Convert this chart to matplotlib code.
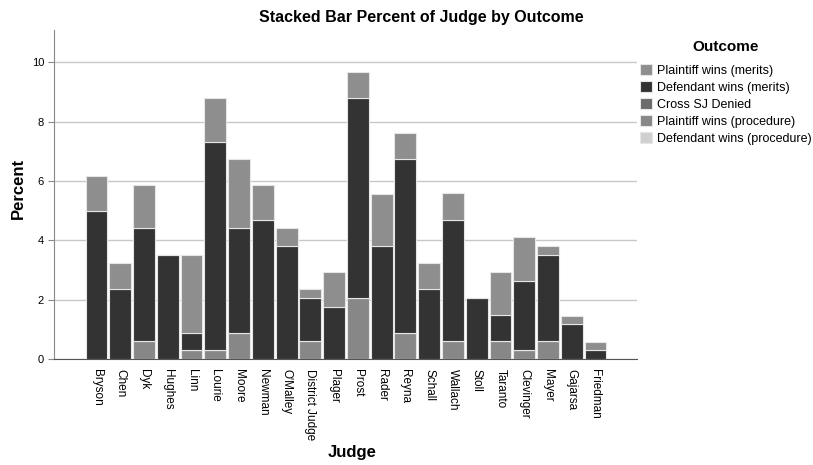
import numpy as np
import matplotlib.pyplot as plt

plt.rcParams['font.family'] = ['Liberation Sans', 'DejaVu Sans']

judges = ["Bryson", "Chen", "Dyk", "Hughes", "Linn", "Lourie", "Moore", "Newman",
          "O'Malley", "District Judge", "Plager", "Prost", "Rader", "Reyna", "Schall",
          "Wallach", "Stoll", "Taranto", "Clevinger", "Mayer", "Gajarsa", "Friedman"]

outcomes = ["Plaintiff wins (merits)", "Defendant wins (merits)", "Cross SJ Denied",
            "Plaintiff wins (procedure)", "Defendant wins (procedure)"]
colors = ["#8e8e8e", "#333333", "#6b6b6b", "#878787", "#d0d0d0"]

# percent of all cases
plaintiff_merits = [1.17, 0.88, 1.47, 0.00, 2.64, 1.47, 2.35, 1.17, 0.59, 0.29, 1.17,
                    0.88, 1.76, 0.88, 0.88, 0.88, 0.00, 1.47, 1.47, 0.29, 0.29, 0.29]
defendant_merits = [4.99, 2.35, 3.81, 3.52, 0.59, 7.04, 3.52, 4.69, 3.81, 1.47, 1.76,
                    6.74, 3.81, 5.87, 2.35, 4.11, 2.05, 0.88, 2.35, 2.93, 1.17, 0.29]
cross_sj = [0.0] * 22
plaintiff_proc = [0.00, 0.00, 0.59, 0.00, 0.29, 0.29, 0.88, 0.00, 0.00, 0.59, 0.00,
                  2.05, 0.00, 0.88, 0.00, 0.59, 0.00, 0.59, 0.29, 0.59, 0.00, 0.00]
defendant_proc = [0.0] * 22

series = [plaintiff_merits, defendant_merits, cross_sj, plaintiff_proc, defendant_proc]

fig = plt.figure(figsize=(8.13, 4.65), dpi=100)
ax = fig.add_axes([0.067, 0.228, 0.716, 0.708])

x = np.arange(len(judges))
bottom = np.zeros(len(judges))
handles = []
# stack from the last outcome up to the first
for name, vals, col in reversed(list(zip(outcomes, series, colors))):
    v = np.array(vals)
    b = ax.bar(x, v, 0.92, bottom=bottom, color=col, edgecolor="#e6e6e6",
               linewidth=0.8, label=name, zorder=3)
    bottom += v
    handles.append(b)
handles = handles[::-1]

ax.set_xlim(-1.77, 22.73)
ax.set_ylim(0, 11.1)
ax.set_yticks([0, 2, 4, 6, 8, 10])
ax.tick_params(axis='y', labelsize=8, length=4, color="#888888", width=0.8)
ax.set_xticks(x)
ax.set_xticklabels(judges, rotation=270, fontsize=8.5)
ax.tick_params(axis='x', length=0, pad=7)
ax.grid(axis='y', color="#c8c8c8", linewidth=1, zorder=0)

for s in ["top", "right"]:
    ax.spines[s].set_visible(False)
ax.spines["left"].set_color("#888888")
ax.spines["bottom"].set_color("#555555")

fig.text(0.022, 0.595, "Percent", rotation=90, ha="center", va="center",
         fontsize=12, fontweight="bold")
fig.text(0.433, 0.026, "Judge", ha="center", va="center",
         fontsize=12, fontweight="bold")
fig.text(0.518, 0.963, "Stacked Bar Percent of Judge by Outcome", ha="center",
         va="center", fontsize=11.5, fontweight="bold")

leg = fig.legend(handles, outcomes, loc="upper left", bbox_to_anchor=(0.781, 0.924),
                 frameon=False, fontsize=9, title="Outcome",
                 handlelength=1.0, handleheight=1.0, handletextpad=0.35,
                 labelspacing=0.33, borderaxespad=0)
leg.get_title().set_fontweight("bold")
leg.get_title().set_fontsize(11)
leg._legend_box.sep = 7

fig.savefig("out.png", dpi=100)
